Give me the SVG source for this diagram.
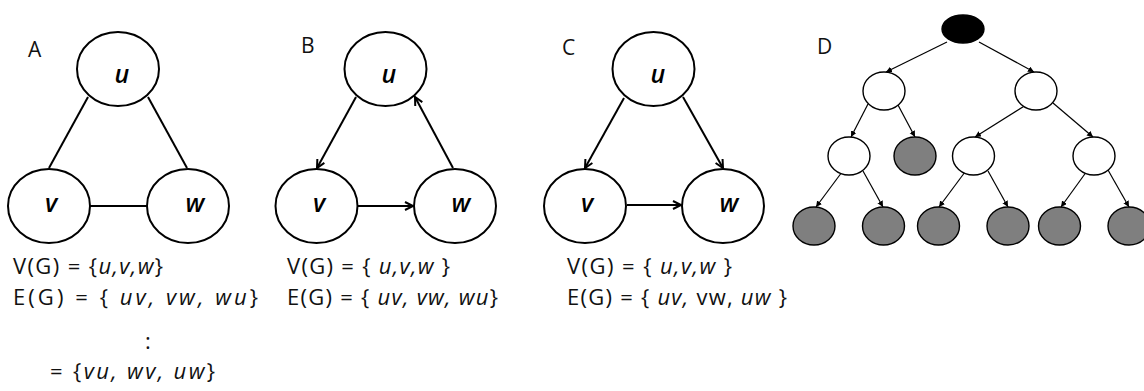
<svg xmlns="http://www.w3.org/2000/svg" width="1144" height="391" viewBox="0 0 1144 391">
<defs>
<style>
.n{fill:#fff;stroke:#000;stroke-width:2}
.t{fill:#fff;stroke:#000;stroke-width:1.4}
.g{fill:#7f7f7f;stroke:#000;stroke-width:1.4}
.r{fill:#000;stroke:#000;stroke-width:1.4}
.e{stroke:#000;stroke-width:2;fill:none}
.te{stroke:#000;stroke-width:1.2;fill:none}
.lbl{font-family:"Open Sans","Liberation Sans",Arial,sans-serif;font-size:25px;font-weight:600;font-style:italic;text-anchor:middle;fill:#000}
.pl{font-family:"Open Sans","Liberation Sans",Arial,sans-serif;font-size:21px;fill:#111}
.tx{font-family:"Open Sans","Liberation Sans",Arial,sans-serif;font-size:22px;fill:#111}
.i{font-style:italic}
</style>
<marker id="oa" markerUnits="userSpaceOnUse" markerWidth="12" markerHeight="12" refX="9" refY="5" orient="auto">
<path d="M1,1 L9,5 L1,9" fill="none" stroke="#000" stroke-width="2"/>
</marker>
<marker id="ta" markerUnits="userSpaceOnUse" markerWidth="8" markerHeight="8" refX="6" refY="3" orient="auto">
<path d="M0,0 L6,3 L0,6 Z" fill="#000"/>
</marker>
</defs>
<rect width="1144" height="391" fill="#fff"/>

<g id="connectors">
<!-- A -->
<line class="e" x1="88" y1="97" x2="49" y2="168"/>
<line class="e" x1="148" y1="97" x2="187" y2="168"/>
<line class="e" x1="90" y1="206" x2="147" y2="206"/>
<!-- B -->
<line class="e" x1="356" y1="97" x2="317" y2="168" marker-end="url(#oa)"/>
<line class="e" x1="453" y1="168" x2="415" y2="97" marker-end="url(#oa)"/>
<line class="e" x1="358" y1="206" x2="413" y2="206" marker-end="url(#oa)"/>
<!-- C -->
<line class="e" x1="624" y1="98" x2="585" y2="168" marker-end="url(#oa)"/>
<line class="e" x1="683" y1="97" x2="723" y2="168" marker-end="url(#oa)"/>
<line class="e" x1="627" y1="205" x2="681" y2="205" marker-end="url(#oa)"/>
<!-- D -->
<line class="te" x1="947" y1="42" x2="886" y2="72" marker-end="url(#ta)"/>
<line class="te" x1="979" y1="42" x2="1034" y2="72" marker-end="url(#ta)"/>
<line class="te" x1="868" y1="104" x2="851" y2="137" marker-end="url(#ta)"/>
<line class="te" x1="898" y1="105" x2="915" y2="137" marker-end="url(#ta)"/>
<line class="te" x1="1026" y1="105" x2="975" y2="137" marker-end="url(#ta)"/>
<line class="te" x1="1053" y1="103" x2="1093" y2="137" marker-end="url(#ta)"/>
<line class="te" x1="842" y1="172" x2="816" y2="207" marker-end="url(#ta)"/>
<line class="te" x1="863" y1="171" x2="883" y2="207" marker-end="url(#ta)"/>
<line class="te" x1="965" y1="172" x2="939" y2="207" marker-end="url(#ta)"/>
<line class="te" x1="988" y1="171" x2="1008" y2="207" marker-end="url(#ta)"/>
<line class="te" x1="1087" y1="171" x2="1061" y2="207" marker-end="url(#ta)"/>
<line class="te" x1="1108" y1="170" x2="1129" y2="207" marker-end="url(#ta)"/>
</g>

<!-- Panel labels -->
<text class="pl" x="28" y="57">A</text>
<text class="pl" x="301" y="53">B</text>
<text class="pl" x="562" y="55">C</text>
<text class="pl" x="817" y="54">D</text>

<!-- A nodes -->
<g id="A-u"><ellipse class="n" cx="118" cy="69" rx="41" ry="37"/><text class="lbl" x="122" y="83">u</text></g>
<g id="A-v"><ellipse class="n" cx="49" cy="206" rx="41" ry="37"/><text class="lbl" x="51" y="212">v</text></g>
<g id="A-w"><ellipse class="n" cx="188" cy="206" rx="41" ry="37"/><text class="lbl" x="195" y="212">w</text></g>
<!-- B nodes -->
<g id="B-u"><ellipse class="n" cx="385.5" cy="69" rx="41" ry="37"/><text class="lbl" x="389" y="83">u</text></g>
<g id="B-v"><ellipse class="n" cx="316.5" cy="206" rx="41" ry="37"/><text class="lbl" x="319" y="212">v</text></g>
<g id="B-w"><ellipse class="n" cx="455" cy="206" rx="41" ry="37"/><text class="lbl" x="461" y="212">w</text></g>
<!-- C nodes -->
<g id="C-u"><ellipse class="n" cx="653.5" cy="69" rx="41" ry="37"/><text class="lbl" x="658" y="83">u</text></g>
<g id="C-v"><ellipse class="n" cx="585" cy="206" rx="41" ry="37"/><text class="lbl" x="587" y="212">v</text></g>
<g id="C-w"><ellipse class="n" cx="723" cy="206" rx="41" ry="37"/><text class="lbl" x="729" y="212">w</text></g>

<!-- D tree nodes -->
<g id="D-root"><ellipse class="r" cx="963" cy="29" rx="21" ry="14"/></g>
<g id="D-l1"><ellipse class="t" cx="884" cy="91" rx="21" ry="19"/></g>
<g id="D-r1"><ellipse class="t" cx="1036" cy="91" rx="21" ry="19"/></g>
<g id="D-l2a"><ellipse class="t" cx="849" cy="156" rx="21" ry="19"/></g>
<g id="D-l2b"><ellipse class="g" cx="915" cy="156" rx="21" ry="19"/></g>
<g id="D-r2a"><ellipse class="t" cx="973.5" cy="156" rx="21" ry="19"/></g>
<g id="D-r2b"><ellipse class="t" cx="1094" cy="156" rx="21" ry="19"/></g>
<g id="D-x1"><ellipse class="g" cx="814" cy="226" rx="21" ry="19"/></g>
<g id="D-x2"><ellipse class="g" cx="883.5" cy="226" rx="21" ry="19"/></g>
<g id="D-x3"><ellipse class="g" cx="938.5" cy="226" rx="21" ry="19"/></g>
<g id="D-x4"><ellipse class="g" cx="1008" cy="226" rx="21" ry="19"/></g>
<g id="D-x5"><ellipse class="g" cx="1059.5" cy="226" rx="21" ry="19"/></g>
<g id="D-x6"><ellipse class="g" cx="1129" cy="226" rx="21" ry="19"/></g>

<!-- Set texts -->
<g id="texts">
<text class="tx" x="13" y="274" textLength="150" lengthAdjust="spacing">V(G) = {<tspan class="i">u,v,w</tspan>}</text>
<text class="tx" x="13" y="305" textLength="245" lengthAdjust="spacing">E(G) = { <tspan class="i">uv, vw, wu</tspan>}</text>
<text class="tx" x="145" y="349">:</text>
<text class="tx" x="50" y="379" textLength="165" lengthAdjust="spacing">= {<tspan class="i">vu, wv, uw</tspan>}</text>

<text class="tx" x="287" y="274" textLength="163" lengthAdjust="spacing">V(G) = { <tspan class="i">u,v,w</tspan> }</text>
<text class="tx" x="287" y="305" textLength="211" lengthAdjust="spacing">E(G) = { <tspan class="i">uv, vw, wu</tspan>}</text>

<text class="tx" x="567" y="274" textLength="165" lengthAdjust="spacing">V(G) = { <tspan class="i">u,v,w</tspan> }</text>
<text class="tx" x="567" y="305" textLength="220" lengthAdjust="spacing">E(G) = { <tspan class="i">uv,</tspan> vw, <tspan class="i">uw</tspan> }</text>
</g>
</svg>
